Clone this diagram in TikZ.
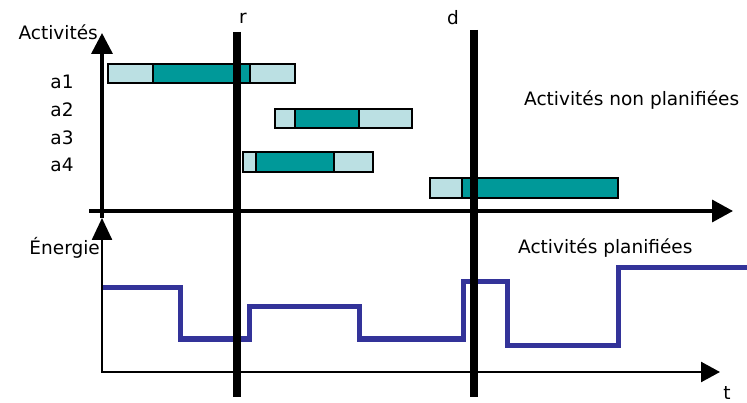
\documentclass[tikz,border=0pt]{standalone}
\usepackage{fontspec}
\setmainfont{DejaVu Sans}
\usetikzlibrary{arrows.meta}

\definecolor{clair}{RGB}{187,224,227}
\definecolor{fonce}{RGB}{0,153,153}
\definecolor{energie}{RGB}{51,51,153}

\tikzset{
  lbl/.style={font=\fontsize{18.5}{21}\selectfont, inner sep=0pt},
  axe/.style={line width=3.5pt},
  jalon/.style={line width=8pt},
  marge/.style={fill=clair, draw=black, line width=1.5pt},
  coeur/.style={fill=fonce, draw=black, line width=1.5pt},
}

\begin{document}
\begin{tikzpicture}[x=1pt,y=-1pt]
        \useasboundingbox (0,0) rectangle (747,403);
        % axes des activites
        \draw[axe, -{Triangle[length=21pt,width=21pt]}] (102,218) -- (102,33);
        \draw[axe, -{Triangle[length=21pt,width=22pt]}] (89,211) -- (733,211);
        % axes de l'energie
        \draw[line width=2.5pt, -{Triangle[length=22pt,width=20pt]}] (102,372) -- (102,218);
        \draw[line width=2.5pt, -{Triangle[length=19pt,width=20pt]}] (101,372) -- (720,372);
        % activites
        \filldraw[marge] (108,64) rectangle (153,83);
        \filldraw[coeur] (153,64) rectangle (250,83);
        \filldraw[marge] (250,64) rectangle (295,83);
        \filldraw[marge] (275,109) rectangle (295,128);
        \filldraw[coeur] (295,109) rectangle (359,128);
        \filldraw[marge] (359,109) rectangle (412,128);
        \filldraw[marge] (243,152) rectangle (256,172);
        \filldraw[coeur] (256,152) rectangle (334,172);
        \filldraw[marge] (334,152) rectangle (373,172);
        \filldraw[marge] (430,178) rectangle (462,198);
        \filldraw[coeur] (462,178) rectangle (618,198);
        % energie
        \draw[energie, line width=5pt] (103,288) -- (180,288) -- (180,339) -- (249,339) -- (249,307)
          -- (359,307) -- (359,339) -- (463,339) -- (463,282) -- (507,282) -- (507,345)
          -- (618,345) -- (618,268) -- (747,268);
        % jalons r et d
        \draw[jalon] (237,32) -- (237,397);
        \draw[jalon] (474,30) -- (474,397);
        \node[lbl] (r) at (243,18) {r};
        \node[lbl] (d) at (453,18) {d};
        \node[lbl] (t) at (727,393) {t};
        % textes
        \node[lbl, anchor=east] (act) at (98,32) {Activités};
        \node[lbl, anchor=east] (ene) at (100,248) {Énergie};
        \node[lbl] (a1) at (62,82) {a1};
        \node[lbl] (a2) at (62,110) {a2};
        \node[lbl] (a3) at (62,138) {a3};
        \node[lbl] (a4) at (62,165) {a4};
        \node[lbl, anchor=west] (nonplan) at (524,100) {Activités non planifiées};
        \node[lbl, anchor=west] (plan) at (518,248) {Activités planifiées};
\end{tikzpicture}
\end{document}
